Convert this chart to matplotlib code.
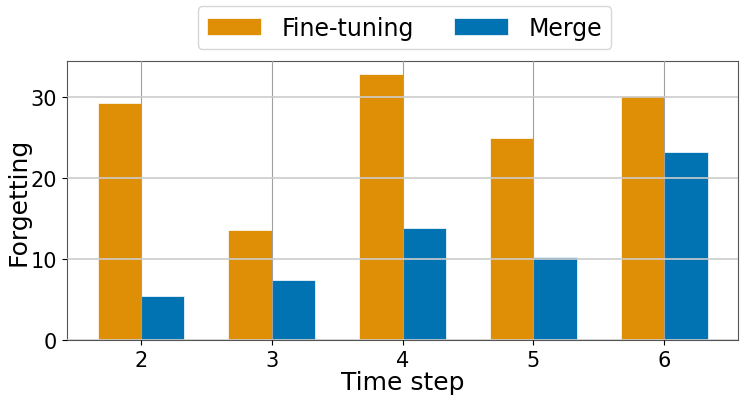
import matplotlib
matplotlib.use("Agg")
import matplotlib.pyplot as plt
import numpy as np

time_steps = [2, 3, 4, 5, 6]
fine_tuning = [29.2, 13.6, 32.8, 24.9, 30.1]
merge = [5.4, 7.4, 13.8, 10.3, 23.2]
series_names = ["Fine-tuning", "Merge"]
colors = ["#DE8F05", "#0173B2"]

fig = plt.figure(figsize=(7.47, 4.02), dpi=100)
ax = fig.add_axes([67/747, 1 - 341/402, (738-67)/747, (341-62)/402])

w = 0.33
x = np.array(time_steps, dtype=float)
ax.bar(x - w, fine_tuning, width=w, align="edge", color=colors[0],
       edgecolor="white", linewidth=0.5, label=series_names[0], zorder=1)
ax.bar(x, merge, width=w, align="edge", color=colors[1],
       edgecolor="white", linewidth=0.5, label=series_names[1], zorder=1)

ax.set_axisbelow(False)
ax.xaxis.grid(True, color="#a0a0a0", linewidth=0.8, zorder=2)
ax.yaxis.grid(True, color="#cccccc", linewidth=1.2, zorder=2)
ax.set_xticks(time_steps)
ax.set_yticks([0, 10, 20, 30])
ax.tick_params(labelsize=15)
ax.set_xlabel("Time step", fontsize=18, labelpad=0)
ax.set_ylabel("Forgetting", fontsize=18, labelpad=0.5)
for s in ax.spines.values():
    s.set_color("#555555")

fig.legend(loc="upper center", bbox_to_anchor=(0.5415, 1.0), ncol=2, fontsize=17,
           frameon=True, columnspacing=1.7, handlelength=2.3, handletextpad=0.85,
           borderpad=0.4, borderaxespad=0.3)

fig.savefig("out.png", dpi=100)
